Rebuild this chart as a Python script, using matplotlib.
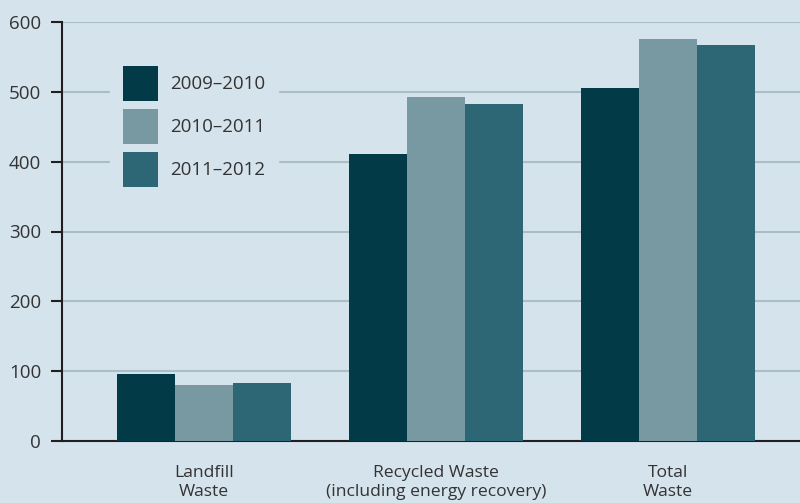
import numpy as np
import matplotlib.pyplot as plt

# waste tonnage by year
categories = ['Landfill\nWaste', 'Recycled Waste\n(including energy recovery)', 'Total\nWaste']
years = ['2009\u20132010', '2010\u20132011', '2011\u20132012']
vals_0910 = [96, 411, 506]
vals_1011 = [80, 493, 575]
vals_1112 = [83, 483, 567]
yticks = [0, 100, 200, 300, 400, 500, 600]

bg = '#d5e3ec'
colors = ['#023a48', '#7899a1', '#2d6674']

plt.rcParams['font.family'] = ['Open Sans', 'DejaVu Sans']

fig = plt.figure(figsize=(8, 5.03), dpi=100, facecolor=bg)
ax = fig.add_axes([62/800, 62/503, 738/800, 419/503])
ax.set_facecolor(bg)

x = np.arange(len(categories))
w = 0.25
series = [vals_0910, vals_1011, vals_1112]
for i, (vals, lab) in enumerate(zip(series, years)):
    ax.bar(x + (i - 1) * w, vals, width=w, color=colors[i], label=lab, zorder=3)

ax.set_xlim(-0.612, 2.569)
ax.set_ylim(0, 600)
ax.set_yticks(yticks)
ax.set_xticks(x)
ax.set_xticklabels(categories, fontsize=12.6, color='#333333', linespacing=1.25)
ax.tick_params(axis='x', length=0, pad=17)
ax.tick_params(axis='y', length=8, width=1.5, color='#231f20', labelsize=13.5,
               labelcolor='#333333', pad=7)

ax.grid(axis='y', color='#a9bec7', linewidth=1.5, zorder=0)
for s in ['top', 'right']:
    ax.spines[s].set_visible(False)
for s in ['left', 'bottom']:
    ax.spines[s].set_color('#231f20')
    ax.spines[s].set_linewidth(1.5)

leg = ax.legend(loc='upper left', bbox_to_anchor=(110/800, 1 - 53/503),
                bbox_transform=fig.transFigure, fontsize=13.5, frameon=True,
                fancybox=False, handlelength=1.867, handleheight=2.49,
                labelspacing=0.43, handletextpad=0.64, borderpad=0.69,
                borderaxespad=0)
leg.get_frame().set_facecolor(bg)
leg.get_frame().set_edgecolor(bg)
leg.get_frame().set_alpha(1)
leg.set_zorder(5)
for t in leg.get_texts():
    t.set_color('#333333')

fig.savefig('out.png', dpi=100, facecolor=bg)
